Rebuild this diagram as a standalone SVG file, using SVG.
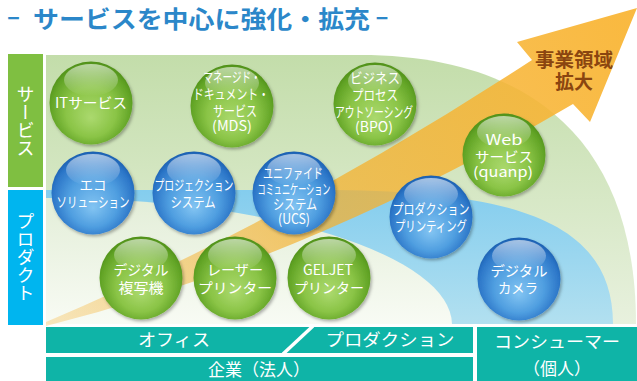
<svg xmlns="http://www.w3.org/2000/svg" width="637" height="381" viewBox="0 0 637 381">
<defs>
<style>
.jp{font-family:"Noto Sans CJK JP","Noto Sans",sans-serif;}
.ct{font-family:"Noto Sans CJK JP","Noto Sans",sans-serif;fill:#ffffff;text-anchor:middle;font-size:14px;}
.bt{font-family:"Noto Sans CJK JP","Noto Sans",sans-serif;fill:#ffffff;text-anchor:middle;font-size:17px;}
.side{font-family:"Noto Sans CJK JP","Noto Sans",sans-serif;fill:#ffffff;font-size:18px;writing-mode:vertical-rl;text-anchor:middle;}
.g{fill:url(#gSph);}
.b{fill:url(#bSph);}
.hl{fill:url(#hiGrad);}
.teal{fill:#0fb4a7;}
</style>
<linearGradient id="bgOuter" x1="0" y1="0" x2="0" y2="1">
<stop offset="0" stop-color="#c3ddaa"/>
<stop offset="1" stop-color="#e8f1de"/>
</linearGradient>
<linearGradient id="bgBlue" x1="0" y1="0" x2="0" y2="1">
<stop offset="0" stop-color="#84cdee"/>
<stop offset="1" stop-color="#b2e0f0"/>
</linearGradient>
<linearGradient id="bgInner" x1="0" y1="0" x2="0" y2="1">
<stop offset="0" stop-color="#e3eed8"/>
<stop offset="1" stop-color="#f8fbf4"/>
</linearGradient>
<linearGradient id="arrowGrad" gradientUnits="userSpaceOnUse" x1="46" y1="325" x2="620" y2="30">
<stop offset="0" stop-color="#f7b335" stop-opacity="0.3"/>
<stop offset="0.45" stop-color="#f4b02e" stop-opacity="0.72"/>
<stop offset="1" stop-color="#f9b637" stop-opacity="0.95"/>
</linearGradient>
<radialGradient id="gSph" cx="0.5" cy="0.55" r="0.55" fx="0.5" fy="0.68">
<stop offset="0" stop-color="#abd96e"/>
<stop offset="0.55" stop-color="#8ac446"/>
<stop offset="0.88" stop-color="#62a426"/>
<stop offset="1" stop-color="#4f9018"/>
</radialGradient>
<radialGradient id="bSph" cx="0.5" cy="0.55" r="0.55" fx="0.5" fy="0.68">
<stop offset="0" stop-color="#82c4f2"/>
<stop offset="0.55" stop-color="#4f9ee0"/>
<stop offset="0.88" stop-color="#2c76c8"/>
<stop offset="1" stop-color="#1b5fb0"/>
</radialGradient>
<linearGradient id="hiGrad" x1="0" y1="0" x2="0" y2="1">
<stop offset="0" stop-color="#ffffff" stop-opacity="0.6"/>
<stop offset="1" stop-color="#ffffff" stop-opacity="0"/>
</linearGradient>
<filter id="sh" x="-20%" y="-20%" width="150%" height="150%">
<feDropShadow dx="1.5" dy="2" stdDeviation="1.5" flood-color="#000" flood-opacity="0.3"/>
</filter>
</defs>

<rect width="637" height="381" fill="#ffffff"/>

<!-- title -->
<g id="title" class="jp" fill="#2b87c9" font-weight="bold">
<text x="13.5" y="25" font-size="24" text-anchor="middle" textLength="13" lengthAdjust="spacingAndGlyphs">–</text>
<text x="33" y="28" font-size="24" textLength="337" lengthAdjust="spacingAndGlyphs">サービスを中心に強化・拡充</text>
<text x="382" y="25" font-size="24" text-anchor="middle" textLength="13" lengthAdjust="spacingAndGlyphs">–</text>
</g>

<!-- side labels -->
<g id="side-service">
<rect x="8" y="54" width="35" height="133" fill="#7fbf41"/>
<text class="side" x="25.5" y="121">サービス</text>
</g>
<g id="side-product">
<rect x="8" y="190" width="35" height="135" fill="#00b5ef"/>
<text class="side" x="25.5" y="257">プロダクト</text>
</g>

<!-- background areas -->
<g id="background">
<path d="M46,55 L360,55 C540,55 636,150 636,324 L46,324 Z" fill="url(#bgOuter)"/>
<path d="M46,190 L300,190 C500,188 613,215 613,324 L46,324 Z" fill="url(#bgBlue)"/>
<path d="M46,198 A406,127 0 0 1 452,324 L46,324 Z" fill="url(#bgInner)"/>
</g>

<!-- growth arrow -->
<g id="connectors">
<path id="growth-arrow" d="M46,322 Q289,219 532,60 L517,42 L637,8 L590,122 L573,104 Q309.5,259 46,326 Z" fill="url(#arrowGrad)"/>
<text class="jp" x="574" y="67" font-size="19" font-weight="bold" fill="#8a4510" text-anchor="middle" textLength="78" lengthAdjust="spacingAndGlyphs">事業領域</text>
<text class="jp" x="574" y="89" font-size="19" font-weight="bold" fill="#8a4510" text-anchor="middle" textLength="38" lengthAdjust="spacingAndGlyphs">拡大</text>
</g>

<!-- nodes -->
<g id="node-it">
<circle class="g" cx="91" cy="103" r="41.5" filter="url(#sh)"/>
<ellipse class="hl" cx="91" cy="80" rx="27" ry="16"/>
<text class="ct" x="91" y="108" font-size="15" textLength="72" lengthAdjust="spacingAndGlyphs">ITサービス</text>
</g>
<g id="node-mds">
<circle class="g" cx="232" cy="106" r="41.5" filter="url(#sh)"/>
<ellipse class="hl" cx="232" cy="83" rx="27" ry="16"/>
<text class="ct" x="232" y="82" textLength="57" lengthAdjust="spacingAndGlyphs">マネージド・</text>
<text class="ct" x="231" y="99" textLength="76" lengthAdjust="spacingAndGlyphs">ドキュメント・</text>
<text class="ct" x="235" y="116" textLength="44" lengthAdjust="spacingAndGlyphs">サービス</text>
<text class="ct" x="232" y="131" textLength="40" lengthAdjust="spacingAndGlyphs">(MDS)</text>
</g>
<g id="node-bpo">
<circle class="g" cx="375" cy="104" r="41.5" filter="url(#sh)"/>
<ellipse class="hl" cx="375" cy="81" rx="27" ry="16"/>
<text class="ct" x="375" y="83" textLength="50" lengthAdjust="spacingAndGlyphs">ビジネス</text>
<text class="ct" x="375" y="100" textLength="46" lengthAdjust="spacingAndGlyphs">プロセス</text>
<text class="ct" x="374" y="117" textLength="78" lengthAdjust="spacingAndGlyphs">アウトソーシング</text>
<text class="ct" x="374" y="132" textLength="38" lengthAdjust="spacingAndGlyphs">(BPO)</text>
</g>
<g id="node-web">
<circle class="g" cx="504" cy="155" r="41.5" filter="url(#sh)"/>
<ellipse class="hl" cx="504" cy="132" rx="27" ry="16"/>
<text class="ct" x="504" y="145" font-size="16" textLength="37" lengthAdjust="spacingAndGlyphs">Web</text>
<text class="ct" x="504" y="162" font-size="16" textLength="58" lengthAdjust="spacingAndGlyphs">サービス</text>
<text class="ct" x="503" y="177" font-size="16" textLength="60" lengthAdjust="spacingAndGlyphs">(quanp)</text>
</g>
<g id="node-eco">
<circle class="b" cx="93" cy="193" r="41.5" filter="url(#sh)"/>
<ellipse class="hl" cx="93" cy="170" rx="27" ry="16"/>
<text class="ct" x="93" y="190" textLength="27" lengthAdjust="spacingAndGlyphs">エコ</text>
<text class="ct" x="93" y="207" textLength="73" lengthAdjust="spacingAndGlyphs">ソリューション</text>
</g>
<g id="node-projection">
<circle class="b" cx="194" cy="193" r="41.5" filter="url(#sh)"/>
<ellipse class="hl" cx="194" cy="170" rx="27" ry="16"/>
<text class="ct" x="194" y="190" textLength="79" lengthAdjust="spacingAndGlyphs">プロジェクション</text>
<text class="ct" x="193" y="207" textLength="45" lengthAdjust="spacingAndGlyphs">システム</text>
</g>
<g id="node-ucs">
<circle class="b" cx="294" cy="193" r="41.5" filter="url(#sh)"/>
<ellipse class="hl" cx="294" cy="170" rx="27" ry="16"/>
<text class="ct" x="293" y="178" font-size="13" textLength="60" lengthAdjust="spacingAndGlyphs">ユニファイド</text>
<text class="ct" x="294" y="194" font-size="13" textLength="73" lengthAdjust="spacingAndGlyphs">コミュニケーション</text>
<text class="ct" x="295" y="209" font-size="13" textLength="44" lengthAdjust="spacingAndGlyphs">システム</text>
<text class="ct" x="294" y="224" font-size="13" textLength="32" lengthAdjust="spacingAndGlyphs">(UCS)</text>
</g>
<g id="node-production-printing">
<circle class="b" cx="431" cy="217" r="41.5" filter="url(#sh)"/>
<ellipse class="hl" cx="431" cy="194" rx="27" ry="16"/>
<text class="ct" x="431" y="214" textLength="77" lengthAdjust="spacingAndGlyphs">プロダクション</text>
<text class="ct" x="431" y="231" textLength="72" lengthAdjust="spacingAndGlyphs">プリンティング</text>
</g>
<g id="node-digital-copier">
<circle class="g" cx="141" cy="278" r="41.5" filter="url(#sh)"/>
<ellipse class="hl" cx="141" cy="255" rx="27" ry="16"/>
<text class="ct" x="141" y="275" font-size="16" textLength="55" lengthAdjust="spacingAndGlyphs">デジタル</text>
<text class="ct" x="141" y="293" font-size="16" textLength="45" lengthAdjust="spacingAndGlyphs">複写機</text>
</g>
<g id="node-laser">
<circle class="g" cx="235" cy="278" r="41.5" filter="url(#sh)"/>
<ellipse class="hl" cx="235" cy="255" rx="27" ry="16"/>
<text class="ct" x="235" y="275" font-size="16" textLength="56" lengthAdjust="spacingAndGlyphs">レーザー</text>
<text class="ct" x="235" y="293" font-size="16" textLength="74" lengthAdjust="spacingAndGlyphs">プリンター</text>
</g>
<g id="node-geljet">
<circle class="g" cx="329" cy="278" r="41.5" filter="url(#sh)"/>
<ellipse class="hl" cx="329" cy="255" rx="27" ry="16"/>
<text class="ct" x="328" y="275" font-size="16" textLength="50" lengthAdjust="spacingAndGlyphs">GELJET</text>
<text class="ct" x="329" y="293" font-size="16" textLength="70" lengthAdjust="spacingAndGlyphs">プリンター</text>
</g>
<g id="node-camera">
<circle class="b" cx="519" cy="279" r="41.5" filter="url(#sh)"/>
<ellipse class="hl" cx="519" cy="256" rx="27" ry="16"/>
<text class="ct" x="519" y="276" font-size="16" textLength="57" lengthAdjust="spacingAndGlyphs">デジタル</text>
<text class="ct" x="518" y="293" font-size="16" textLength="40" lengthAdjust="spacingAndGlyphs">カメラ</text>
</g>

<!-- bottom bars -->
<g id="bar-office-production">
<rect class="teal" x="46" y="327" width="427" height="26"/>
<line x1="283" y1="354" x2="313" y2="326" stroke="#ffffff" stroke-width="3.5"/>
<text class="bt" x="174" y="346" font-size="18" textLength="72" lengthAdjust="spacingAndGlyphs">オフィス</text>
<text class="bt" x="390" y="346" font-size="18" textLength="129" lengthAdjust="spacingAndGlyphs">プロダクション</text>
</g>
<g id="bar-enterprise">
<rect class="teal" x="46" y="357" width="427" height="24"/>
<text class="bt" x="259" y="376" textLength="102" lengthAdjust="spacingAndGlyphs">企業（法人）</text>
</g>
<g id="bar-consumer">
<rect class="teal" x="477" y="327" width="160" height="54"/>
<text class="bt" x="557" y="348" font-size="18" textLength="126" lengthAdjust="spacingAndGlyphs">コンシューマー</text>
<text class="bt" x="557" y="375" textLength="68" lengthAdjust="spacingAndGlyphs">（個人）</text>
</g>
</svg>
